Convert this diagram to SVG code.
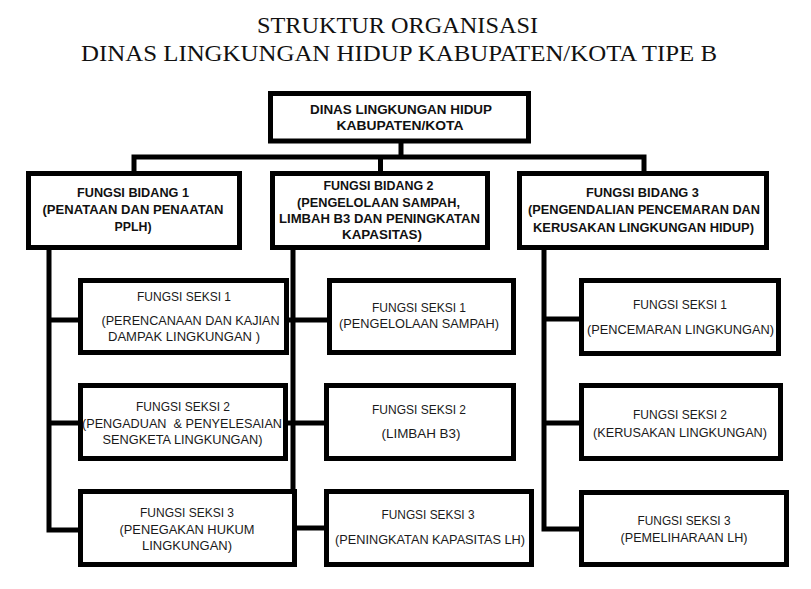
<svg xmlns="http://www.w3.org/2000/svg" width="811" height="589" viewBox="0 0 811 589">
<style>
.bg{fill:#fff}
.box{fill:#fff;stroke:#000;stroke-width:5}
.ln{fill:none;stroke:#000;stroke-width:5}
.title{font-family:"Liberation Serif","Times New Roman",serif;font-size:22.5px;fill:#111;text-anchor:middle}
.b{font-family:"Liberation Sans",Arial,sans-serif;font-size:12.5px;font-weight:bold;fill:#111;text-anchor:middle}
.r{font-family:"Liberation Sans",Arial,sans-serif;font-size:12px;fill:#1a1a1a;text-anchor:middle}
</style>
<rect class="bg" x="0" y="0" width="811" height="589"/>
<g id="title">
<text class="title" x="397.5" y="33" textLength="281" lengthAdjust="spacingAndGlyphs">STRUKTUR ORGANISASI</text>
<text class="title" x="399" y="61" textLength="636" lengthAdjust="spacingAndGlyphs">DINAS LINGKUNGAN HIDUP KABUPATEN/KOTA TIPE B</text>
</g>
<g id="connectors">
<path class="ln" d="M401,141 V157"/>
<path class="ln" d="M134,173 V157 H644 V173"/>
<path class="ln" d="M380.5,157 V173"/>
<path class="ln" d="M49,248 V530 H80"/>
<path class="ln" d="M49,320 H80"/>
<path class="ln" d="M49,423 H80"/>
<path class="ln" d="M293,248 V491"/>
<path class="ln" d="M287,320 H329"/>
<path class="ln" d="M286,423 H326"/>
<path class="ln" d="M295,528 H326"/>
<path class="ln" d="M544,248 V529 H581"/>
<path class="ln" d="M544,319 H581"/>
<path class="ln" d="M544,423 H581"/>
</g>
<g id="dinas">
<rect class="box" x="270.5" y="93.5" width="258" height="47.5"/>
<text class="b" x="401" y="114" textLength="182" lengthAdjust="spacingAndGlyphs">DINAS LINGKUNGAN HIDUP</text>
<text class="b" x="400" y="130" textLength="127" lengthAdjust="spacingAndGlyphs">KABUPATEN/KOTA</text>
</g>
<g id="bidang1">
<rect class="box" x="28.5" y="173.5" width="211" height="74"/>
<text class="b" x="133" y="197" textLength="112" lengthAdjust="spacingAndGlyphs">FUNGSI BIDANG 1</text>
<text class="b" x="133" y="214" textLength="181" lengthAdjust="spacingAndGlyphs">(PENATAAN DAN PENAATAN</text>
<text class="b" x="133" y="231" textLength="37" lengthAdjust="spacingAndGlyphs">PPLH)</text>
</g>
<g id="bidang2">
<rect class="box" x="272.5" y="173.5" width="215" height="74"/>
<text class="b" x="378.5" y="190" textLength="110" lengthAdjust="spacingAndGlyphs">FUNGSI BIDANG 2</text>
<text class="b" x="378.5" y="207" textLength="163" lengthAdjust="spacingAndGlyphs">(PENGELOLAAN SAMPAH,</text>
<text class="b" x="379.5" y="223" textLength="201" lengthAdjust="spacingAndGlyphs">LIMBAH B3 DAN PENINGKATAN</text>
<text class="b" x="382" y="239" textLength="80" lengthAdjust="spacingAndGlyphs">KAPASITAS)</text>
</g>
<g id="bidang3">
<rect class="box" x="519.5" y="173.5" width="247" height="74"/>
<text class="b" x="642.5" y="197" textLength="113" lengthAdjust="spacingAndGlyphs">FUNGSI BIDANG 3</text>
<text class="b" x="644" y="214" textLength="232" lengthAdjust="spacingAndGlyphs">(PENGENDALIAN PENCEMARAN DAN</text>
<text class="b" x="643.5" y="232" textLength="221" lengthAdjust="spacingAndGlyphs">KERUSAKAN LINGKUNGAN HIDUP)</text>
</g>
<g id="seksi1-1">
<rect class="box" x="80.5" y="280.5" width="206" height="72"/>
<text class="r" x="184" y="301" textLength="94" lengthAdjust="spacingAndGlyphs">FUNGSI SEKSI 1</text>
<text class="r" x="190.5" y="325" textLength="178" lengthAdjust="spacingAndGlyphs">(PERENCANAAN DAN KAJIAN</text>
<text class="r" x="184" y="341" textLength="152" lengthAdjust="spacingAndGlyphs">DAMPAK LINGKUNGAN )</text>
</g>
<g id="seksi1-2">
<rect class="box" x="80.5" y="385.5" width="205" height="73"/>
<text class="r" x="183" y="411" textLength="94" lengthAdjust="spacingAndGlyphs">FUNGSI SEKSI 2</text>
<text class="r" x="182" y="428" textLength="200" lengthAdjust="spacingAndGlyphs" style="white-space:pre">(PENGADUAN  &amp; PENYELESAIAN</text>
<text class="r" x="182.5" y="444" textLength="160" lengthAdjust="spacingAndGlyphs">SENGKETA LINGKUNGAN)</text>
</g>
<g id="seksi1-3">
<rect class="box" x="80.5" y="491.5" width="214" height="73"/>
<text class="r" x="187" y="517" textLength="94" lengthAdjust="spacingAndGlyphs">FUNGSI SEKSI 3</text>
<text class="r" x="187" y="534" textLength="135" lengthAdjust="spacingAndGlyphs">(PENEGAKAN HUKUM</text>
<text class="r" x="187" y="550" textLength="90" lengthAdjust="spacingAndGlyphs">LINGKUNGAN)</text>
</g>
<g id="seksi2-1">
<rect class="box" x="329.5" y="280.5" width="184" height="72"/>
<text class="r" x="419" y="312" textLength="94" lengthAdjust="spacingAndGlyphs">FUNGSI SEKSI 1</text>
<text class="r" x="419" y="328" textLength="160" lengthAdjust="spacingAndGlyphs">(PENGELOLAAN SAMPAH)</text>
</g>
<g id="seksi2-2">
<rect class="box" x="326.5" y="385.5" width="187" height="73"/>
<text class="r" x="419" y="414" textLength="94" lengthAdjust="spacingAndGlyphs">FUNGSI SEKSI 2</text>
<text class="r" x="421" y="438" textLength="79" lengthAdjust="spacingAndGlyphs">(LIMBAH B3)</text>
</g>
<g id="seksi2-3">
<rect class="box" x="326.5" y="491.5" width="205" height="73"/>
<text class="r" x="428" y="519" textLength="93" lengthAdjust="spacingAndGlyphs">FUNGSI SEKSI 3</text>
<text class="r" x="430" y="544" textLength="190" lengthAdjust="spacingAndGlyphs">(PENINGKATAN KAPASITAS LH)</text>
</g>
<g id="seksi3-1">
<rect class="box" x="581.5" y="280.5" width="197" height="73"/>
<text class="r" x="680" y="309" textLength="94" lengthAdjust="spacingAndGlyphs">FUNGSI SEKSI 1</text>
<text class="r" x="680.5" y="334" textLength="187" lengthAdjust="spacingAndGlyphs">(PENCEMARAN LINGKUNGAN)</text>
</g>
<g id="seksi3-2">
<rect class="box" x="581.5" y="385.5" width="199" height="73"/>
<text class="r" x="680" y="419" textLength="94" lengthAdjust="spacingAndGlyphs">FUNGSI SEKSI 2</text>
<text class="r" x="680" y="437" textLength="174" lengthAdjust="spacingAndGlyphs">(KERUSAKAN LINGKUNGAN)</text>
</g>
<g id="seksi3-3">
<rect class="box" x="581.5" y="492.5" width="205" height="72"/>
<text class="r" x="684" y="525" textLength="93" lengthAdjust="spacingAndGlyphs">FUNGSI SEKSI 3</text>
<text class="r" x="684" y="542" textLength="127" lengthAdjust="spacingAndGlyphs">(PEMELIHARAAN LH)</text>
</g>
</svg>
